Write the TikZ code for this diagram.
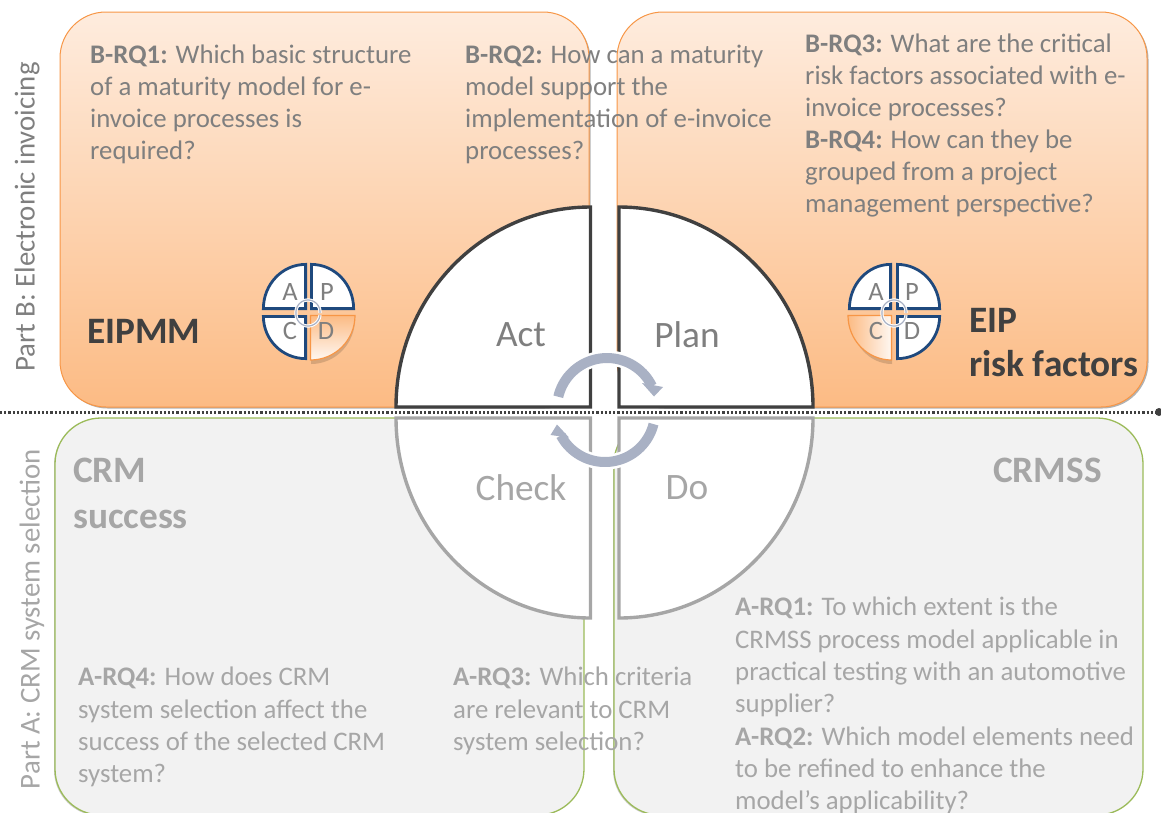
\documentclass[tikz,border=0pt]{standalone}
\usepackage{fontspec}
\setmainfont{Carlito}
\usetikzlibrary{shadows}
\definecolor{txtA}{HTML}{7F7F7F}
\definecolor{txtB}{HTML}{A6A6A6}
\definecolor{orangeedge}{HTML}{F79646}
\definecolor{orangetop}{HTML}{FEECDE}
\definecolor{orangebot}{HTML}{FCBB84}
\definecolor{greenedge}{HTML}{9BBB59}
\definecolor{navy}{HTML}{1F497D}
\definecolor{cyc}{HTML}{A9B1C4}
\tikzset{
 x=1pt,y=-1pt,
 panelB/.style={draw=orangeedge,line width=1pt,top color=orangetop,bottom color=orangebot,rounded corners=46pt,
   drop shadow={shadow xshift=1.5pt,shadow yshift=-1.5pt,opacity=0.3,fill=black}},
 panelA/.style={draw=greenedge,line width=1.3pt,fill=black!5,rounded corners=46pt,
   drop shadow={shadow xshift=-1pt,shadow yshift=-1pt,opacity=0.2,fill=black}},
 qB/.style={draw=black!75,line width=3.4pt,fill=white,line join=miter},
 qA/.style={draw=txtB,line width=3.4pt,fill=white,line join=miter},
 rqB/.style={text=txtA,font=\fontsize{26.8}{32}\selectfont,align=left,anchor=north west,inner sep=0pt},
 rqA/.style={text=txtB,font=\fontsize{26.8}{32.3}\selectfont,align=left,anchor=north west,inner sep=0pt},
 bigB/.style={text=black!75,font=\bfseries\fontsize{37.3}{44}\selectfont,align=left,anchor=north west,inner sep=0pt},
 bigA/.style={text=txtB,font=\bfseries\fontsize{37.3}{45.5}\selectfont,align=left,anchor=north west,inner sep=0pt},
 qlabelB/.style={text=txtA,font=\fontsize{37.3}{40}\selectfont,inner sep=0pt},
 qlabelA/.style={text=txtB,font=\fontsize{37.3}{40}\selectfont,inner sep=0pt},
 side/.style={text=txtA,font=\fontsize{28.8}{30}\selectfont,rotate=90,inner sep=0pt},
 sideA/.style={text=txtB,font=\fontsize{28.8}{30}\selectfont,rotate=90,inner sep=0pt},
 cycarc/.style={draw=cyc,line width=10pt},
 halo/.style={draw=white,line width=15pt},
 smallhalo/.style={draw=white,line width=3.2pt},
 smallcyc/.style={draw=cyc,line width=1.2pt},
 qn/.style={draw=navy,line width=2.8pt,fill=white,line join=miter},
 qo/.style={draw=orangeedge,line width=1.2pt,line join=miter},
 ml/.style={text=txtA,font=\fontsize{26.5}{28}\selectfont,inner sep=0pt},
}
\newcommand{\qdr}[5]{(#1,#2) -- (#3,#2) .. controls (#3,{#2+0.5523*(#5-#2)}) and ({#1+0.5523*(#3-#1)},#5) .. (#1,#5) -- cycle}
\begin{document}
\begin{tikzpicture}
\useasboundingbox (0,0) rectangle (1161,812);
\begin{scope}
\clip (0,0) rectangle (1161,812);
\path[panelA] (55,418) rectangle (584,815);
\path[panelA] (614,418) rectangle (1143,815);
\path[panelB] (60,12) rectangle (589,407);
\path[panelB] (617,12) rectangle (1147,407);
\end{scope}
% main quadrants
\path[qA] \qdr{590.5}{418}{396}{}{618};
\path[qA] \qdr{619}{418}{813}{}{618};
\path[qB] \qdr{590.5}{407}{396}{}{207};
\path[qB] \qdr{619}{407}{813}{}{207};
% dotted separator
\coordinate (sepL) at (0,412);
\coordinate (sepR) at (1161,412);
\draw[black!75,line width=3pt,dash pattern=on 2.2pt off 2pt] (sepL) -- (sepR);
\fill[black!75] (1159,412) circle (4);
% centre cycle, upper arrow
\draw[halo] plot[domain=167:26,samples=40] ({607+50*cos(\x)},{408-50*sin(\x)});
\draw[draw=white,fill=white,line width=4pt,line join=round] (643,384) -- (662,387) -- (654,396) -- cycle;
\draw[cycarc] plot[domain=167:26,samples=40] ({607+50*cos(\x)},{408-50*sin(\x)});
\fill[cyc] (642,383) -- (663,387) -- (654,396.5) -- cycle;
% centre cycle, lower arrow
\draw[halo] plot[domain=-14:-152,samples=40] ({605+50*cos(\x)},{412-50*sin(\x)});
\draw[draw=white,fill=white,line width=4pt,line join=round] (557,425) -- (551,435) -- (568,437) -- cycle;
\draw[cycarc] plot[domain=-14:-152,samples=40] ({605+50*cos(\x)},{412-50*sin(\x)});
\fill[cyc] (557,424.5) -- (550.5,435) -- (569,437.5) -- cycle;
% mini cycle left
\fill[black,opacity=.15] \qdr{311}{319}{355}{}{364};
\path[qo,top color=orangebot,bottom color=orangetop!40!white] \qdr{310.5}{315.5}{355}{}{360};
\path[qn] \qdr{305.6}{308.6}{263.4}{}{264.4};
\path[qn] \qdr{311.4}{308.6}{353.6}{}{264.4};
\path[qn] \qdr{305.6}{316.4}{263.4}{}{358.6};
\draw[smallhalo] plot[domain=185:-5,samples=24] ({308+12*cos(\x)},{312-12*sin(\x)});
\draw[smallhalo] plot[domain=-5:-185,samples=24] ({308+12*cos(\x)},{314-12*sin(\x)});
\draw[smallcyc] plot[domain=185:-5,samples=24] ({308+12*cos(\x)},{312-12*sin(\x)});
\draw[smallcyc] plot[domain=-5:-185,samples=24] ({308+12*cos(\x)},{314-12*sin(\x)});
% mini cycle right
\fill[black,opacity=.15] \qdr{892}{319}{851}{}{364};
\path[qo,left color=orangebot,right color=orangetop!40!white] \qdr{891.5}{315.5}{848}{}{360};
\path[qn] \qdr{890.6}{308.6}{849.4}{}{264.4};
\path[qn] \qdr{897.4}{308.6}{939.6}{}{264.4};
\path[qn] \qdr{897.4}{316.4}{939.6}{}{358.6};
\draw[smallhalo] plot[domain=185:-5,samples=24] ({894+12*cos(\x)},{312-12*sin(\x)});
\draw[smallhalo] plot[domain=-5:-185,samples=24] ({894+12*cos(\x)},{314-12*sin(\x)});
\draw[smallcyc] plot[domain=185:-5,samples=24] ({894+12*cos(\x)},{312-12*sin(\x)});
\draw[smallcyc] plot[domain=-5:-185,samples=24] ({894+12*cos(\x)},{314-12*sin(\x)});
% labels
\node[qlabelB] (act) at (521,335) {Act};
\node[qlabelB] (plan) at (687,335) {Plan};
\node[qlabelA] (check) at (521,488) {Check};
\node[qlabelA] (do) at (687,488) {Do};
\node[ml] (ma1) at (290,292) {A}; \node[ml] (mp1) at (327,292) {P};
\node[ml] (mc1) at (290,331) {C}; \node[ml] (md1) at (326,331) {D};
\node[ml] (ma2) at (876,292) {A}; \node[ml] (mp2) at (912,292) {P};
\node[ml] (mc2) at (876,331) {C}; \node[ml] (md2) at (912,331) {D};
\node[rqB] (b1) at (90,45) {\textbf{B-RQ1:} Which basic structure\\of a maturity model for e-\\invoice processes is\\required?};
\node[rqB] (b2) at (465,45) {\textbf{B-RQ2:} How can a maturity\\model support the\\implementation of e-invoice\\processes?};
\node[rqB] (b3) at (805,34) {\textbf{B-RQ3:} What are the critical\\risk factors associated with e-\\invoice processes?\\\textbf{B-RQ4:} How can they be\\grouped from a project\\management perspective?};
\node[bigB] (eipmm) at (87,319) {EIPMM};
\node[bigB] (eip) at (969,308) {EIP\\risk factors};
\node[bigA] (crm) at (73,458) {CRM\\success};
\node[bigA] (crmss) at (993,458) {CRMSS};
\node[rqA] (a4) at (78,667) {\textbf{A-RQ4:} How does CRM\\system selection affect the\\success of the selected CRM\\system?};
\node[rqA] (a3) at (453,667) {\textbf{A-RQ3:} Which criteria\\are relevant to CRM\\system selection?};
\node[rqA] (a1) at (735,597) {\textbf{A-RQ1:} To which extent is the\\CRMSS process model applicable in\\practical testing with an automotive\\supplier?\\\textbf{A-RQ2:} Which model elements need\\to be refined to enhance the\\model’s applicability?};
\node[side] (pb) at (27,217) {Part B: Electronic invoicing};
\node[sideA] (pa) at (32,619) {Part A: CRM system selection};
\end{tikzpicture}
\end{document}
